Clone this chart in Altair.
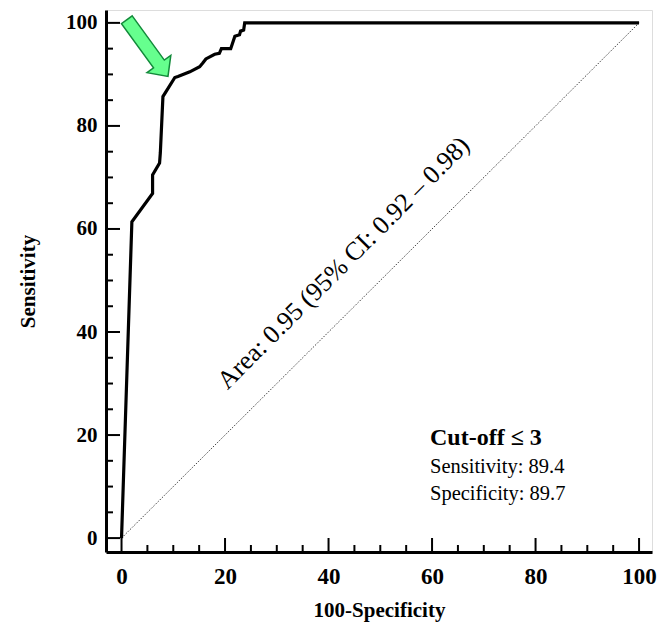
import altair as alt
import pandas as pd

# ROC curve points (100-Specificity, Sensitivity)
roc_fpr = [0, 2.0, 6.0, 6.0, 7.35, 7.5, 8.0, 10.3, 10.9, 13.2, 15.1, 15.7, 16.3, 18.0, 18.9, 19.3, 21.1, 21.9, 22.8, 23.0, 23.6, 23.8, 100]
roc_tpr = [0, 61.4, 66.9, 70.5, 72.8, 74.8, 85.7, 89.4, 89.6, 90.5, 91.5, 92.2, 93.0, 93.9, 94.1, 95.0, 95.0, 97.4, 97.7, 98.4, 98.6, 100, 100]

# reference diagonal
diag_x = [0, 100]
diag_y = [0, 100]

major_ticks = [0, 20, 40, 60, 80, 100]
minor_ticks = [5, 10, 15, 25, 30, 35, 45, 50, 55, 65, 70, 75, 85, 90, 95]

area_text = ["Area: 0.95 (95% CI: 0.92 \u2013 0.98)"]
area_x = [42.9]
area_y = [53.4]

info_lines = ["Cut-off \u2264 3", "Sensitivity: 89.4", "Specificity: 89.7"]
info_x = [59.6, 59.6, 59.6]
info_y = [19.4, 13.8, 8.5]

arrow_x = [5.0]
arrow_y = [95.1]

FONT = "Liberation Serif"
W, H = 546, 542

xs = alt.Scale(domain=[-3, 102.5], nice=False, zero=False)
ys = alt.Scale(domain=[-2.7, 102.5], nice=False, zero=False)

roc_df = pd.DataFrame({"x": roc_fpr, "y": roc_tpr, "i": list(range(len(roc_fpr)))})
diag_df = pd.DataFrame({"x": diag_x, "y": diag_y})

x_axis = alt.Axis(values=major_ticks, ticks=False, grid=False, domain=True, domainWidth=3,
                  domainColor="black", labelFont=FONT, labelFontWeight="bold", labelFontSize=23,
                  labelColor="black", labelPadding=13, title="100-Specificity", titleFont=FONT,
                  titleFontWeight="bold", titleFontSize=21, titleColor="black",
                  titleY=58, titleBaseline="middle")
y_axis = alt.Axis(values=major_ticks, ticks=False, grid=False, domain=True, domainWidth=3,
                  domainColor="black", labelFont=FONT, labelFontWeight="bold", labelFontSize=21,
                  labelColor="black", labelPadding=9, title="Sensitivity", titleFont=FONT,
                  titleFontWeight="bold", titleFontSize=21, titleColor="black",
                  titleX=-78, titleY=H / 2, titleAngle=270, titleBaseline="middle", titleAlign="center")

diag = alt.Chart(diag_df).mark_line(color="#444444", strokeWidth=1, strokeDash=[1.5, 1.5]).encode(
    x=alt.X("x:Q", scale=xs, axis=x_axis),
    y=alt.Y("y:Q", scale=ys, axis=y_axis),
)

curve = alt.Chart(roc_df).mark_line(color="black", strokeWidth=3.2, strokeJoin="miter").encode(
    x=alt.X("x:Q", scale=xs),
    y=alt.Y("y:Q", scale=ys),
    order="i:Q",
)

maj_df = pd.DataFrame({"t": major_ticks})
min_df = pd.DataFrame({"t": minor_ticks})

xt_major = alt.Chart(maj_df).mark_rule(color="black", strokeWidth=2).encode(
    x=alt.X("t:Q", scale=xs), y=alt.value(H), y2=alt.value(H - 14))
xt_minor = alt.Chart(min_df).mark_rule(color="black", strokeWidth=2).encode(
    x=alt.X("t:Q", scale=xs), y=alt.value(H), y2=alt.value(H - 7))
yt_major = alt.Chart(maj_df).mark_rule(color="black", strokeWidth=2).encode(
    y=alt.Y("t:Q", scale=ys), x=alt.value(0), x2=alt.value(14))
yt_minor = alt.Chart(min_df).mark_rule(color="black", strokeWidth=2).encode(
    y=alt.Y("t:Q", scale=ys), x=alt.value(0), x2=alt.value(7))

area_lbl = alt.Chart(pd.DataFrame({"x": area_x, "y": area_y, "t": area_text})).mark_text(
    font=FONT, fontSize=26, angle=315, align="center", baseline="middle", color="black").encode(
    x=alt.X("x:Q", scale=xs), y=alt.Y("y:Q", scale=ys), text="t:N")

info_df = pd.DataFrame({"x": info_x, "y": info_y, "t": info_lines})
info_bold = alt.Chart(info_df.iloc[[0]]).mark_text(
    font=FONT, fontSize=24, fontWeight="bold", align="left", baseline="middle", color="black").encode(
    x=alt.X("x:Q", scale=xs), y=alt.Y("y:Q", scale=ys), text="t:N")
info_rest = alt.Chart(info_df.iloc[1:]).mark_text(
    font=FONT, fontSize=20.5, align="left", baseline="middle", color="black").encode(
    x=alt.X("x:Q", scale=xs), y=alt.Y("y:Q", scale=ys), text="t:N")

ARROW = "M-1,-0.19 L0.56,-0.19 L0.56,-0.42 L1,0 L0.56,0.42 L0.56,0.19 L-1,0.19 Z"
arrow = alt.Chart(pd.DataFrame({"x": arrow_x, "y": arrow_y})).mark_point(
    shape=ARROW, size=70 * 70, angle=54, filled=True, fill="#66FF8E", stroke="#128A3A",
    strokeWidth=1.5, opacity=1).encode(
    x=alt.X("x:Q", scale=xs), y=alt.Y("y:Q", scale=ys))

chart = alt.layer(diag, curve, xt_major, xt_minor, yt_major, yt_minor, area_lbl, info_bold, info_rest, arrow).properties(
    width=W, height=H,
    autosize=alt.AutoSizeParams(type="none"),
    padding={"left": 106, "top": 10, "right": 5, "bottom": 76},
).configure_view(stroke="black", strokeWidth=2).configure(background="white")

chart.save("out.html", embed_options={"renderer": "svg", "actions": False})
